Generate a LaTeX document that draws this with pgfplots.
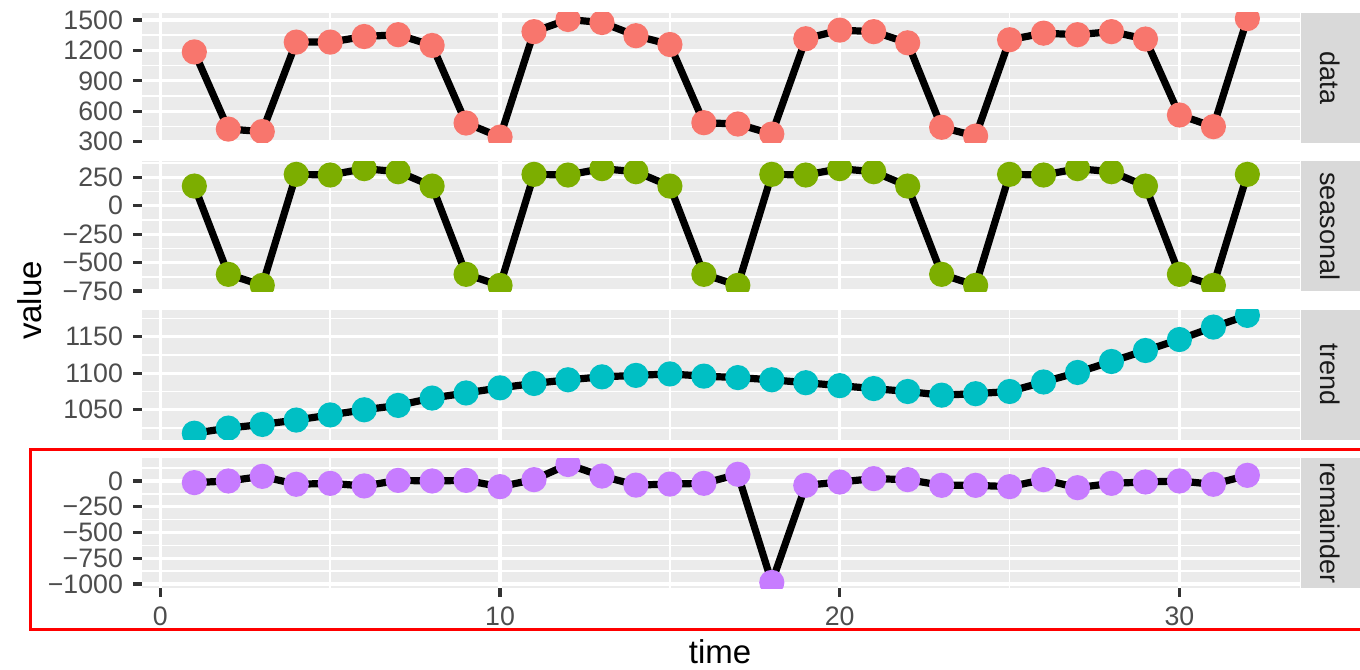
\documentclass[border=0pt]{standalone}
\usepackage{pgfplots}
\pgfplotsset{compat=1.18}
\usepackage{fontspec}
\setmainfont{Liberation Sans}
\definecolor{panelbg}{HTML}{EBEBEB}
\definecolor{stripbg}{HTML}{D9D9D9}
\definecolor{ticklab}{HTML}{4D4D4D}
\definecolor{tickcol}{HTML}{333333}
\definecolor{striptext}{HTML}{1A1A1A}
\definecolor{c1}{HTML}{F8766D}
\definecolor{c2}{HTML}{7CAE00}
\definecolor{c3}{HTML}{00BFC4}
\definecolor{c4}{HTML}{C77CFF}
\pgfplotsset{
  panel/.style={
    scale only axis, width=386.1bp, height=43.43bp,
    anchor=north west,
    xmin=-0.55, xmax=33.55,
    axis background/.style={fill=panelbg},
    axis line style={draw=none},
    tick align=outside,
    tickpos=left,
    major tick length=2.75bp,
    minor tick length=0pt,
    every tick/.style={tickcol, line width=1.07bp},
    xtick={0,10,20,30},
    minor xtick={5,15,25},
    grid=both,
    major grid style={white, line width=1.07bp},
    minor grid style={white, line width=0.53bp},
    tick label style={font=\fontsize{8.9bp}{10bp}\selectfont, text=ticklab},
    yticklabel style={anchor=east},
    clip marker paths=true,
  },
  toppanel/.style={panel, xticklabels={}, xmajorticks=false},
  ser/.style={black, line width=2.4bp, mark=*, mark size=3.9bp,
    mark options={draw=#1, fill=#1, line width=0.6bp}},
}
\begin{document}
\begin{tikzpicture}
\path[use as bounding box] (0,0) rectangle (453.33bp,-223.33bp);
% data
\begin{axis}[toppanel, at={(47.23bp,-4.23bp)},
  ymin=287, ymax=1572,
  ytick={300,600,900,1200,1500}, yticklabels={300,600,900,1200,1500},
  minor ytick={450,750,1050,1350}]
\addplot[ser=c1] coordinates {
(1,1185) (2,424) (3,400) (4,1282) (5,1282) (6,1337) (7,1355) (8,1249)
(9,484) (10,345) (11,1385) (12,1505) (13,1475) (14,1345) (15,1258) (16,487)
(17,474) (18,375) (19,1315) (20,1400) (21,1385) (22,1275) (23,442) (24,355)
(25,1305) (26,1370) (27,1355) (28,1385) (29,1312) (30,563) (31,448) (32,1514)};
\end{axis}
% seasonal
\begin{axis}[toppanel, at={(47.23bp,-53.67bp)},
  ymin=-752, ymax=392,
  ytick={-750,-500,-250,0,250}, yticklabels={−750,−500,−250,0,250},
  minor ytick={-625,-375,-125,125,375}]
\addplot[ser=c2] coordinates {
(1,172) (2,-603) (3,-700) (4,275) (5,269) (6,325) (7,298) (8,172)
(9,-603) (10,-700) (11,275) (12,269) (13,325) (14,298) (15,172) (16,-603)
(17,-700) (18,275) (19,269) (20,325) (21,298) (22,172) (23,-603) (24,-700)
(25,275) (26,269) (27,325) (28,298) (29,172) (30,-603) (31,-700) (32,275)};
\end{axis}
% trend
\begin{axis}[toppanel, at={(47.23bp,-103.17bp)},
  ymin=1009, ymax=1187,
  ytick={1050,1100,1150}, yticklabels={1050,1100,1150},
  minor ytick={1025,1075,1125,1175}]
\addplot[ser=c3] coordinates {
(1,1018) (2,1025) (3,1030) (4,1036) (5,1043) (6,1050) (7,1056) (8,1066)
(9,1073) (10,1080) (11,1086) (12,1091) (13,1095) (14,1097) (15,1099) (16,1096)
(17,1094) (18,1091) (19,1087) (20,1083) (21,1079) (22,1075) (23,1070) (24,1072)
(25,1075) (26,1088) (27,1101) (28,1116) (29,1131) (30,1146) (31,1163) (32,1179)};
\end{axis}
% remainder
\begin{axis}[panel, at={(47.23bp,-152.67bp)},
  ymin=-1042, ymax=223,
  ytick={-1000,-750,-500,-250,0}, yticklabels={−1000,−750,−500,−250,0},
  minor ytick={-875,-625,-375,-125,125},
  xticklabels={0,10,20,30}]
\addplot[ser=c4] coordinates {
(1,-16) (2,0) (3,45) (4,-32) (5,-23) (6,-48) (7,6) (8,0)
(9,6) (10,-55) (11,13) (12,160) (13,48) (14,-40) (15,-30) (16,-23)
(17,65) (18,-985) (19,-42) (20,-10) (21,23) (22,13) (23,-42) (24,-42)
(25,-55) (26,13) (27,-65) (28,-23) (29,-10) (30,0) (31,-32) (32,55)};
\end{axis}
% strips
\foreach \t/\lab in {4.23/data,53.67/seasonal,103.17/trend,152.67/remainder}{
  \fill[stripbg] (433.67bp,-\t bp) rectangle (453.33bp,{-(\t+43.43)*1bp});
  \node[rotate=-90, text=striptext, font=\fontsize{9bp}{10bp}\selectfont, inner sep=0pt]
    at (443.5bp,{-(\t+21.72)*1bp}) {\lab};
}
% axis titles
\node[rotate=90, font=\fontsize{11bp}{13bp}\selectfont, inner sep=0pt] at (10bp,-100.17bp) {value};
\node[anchor=base, font=\fontsize{11bp}{13bp}\selectfont, inner sep=0pt] at (240bp,-221.3bp) {time};
% red frame
\draw[red, line width=1bp] (456bp,-149.67bp) -- (10bp,-149.67bp) -- (10bp,-209.67bp) -- (456bp,-209.67bp);
\end{tikzpicture}
\end{document}
